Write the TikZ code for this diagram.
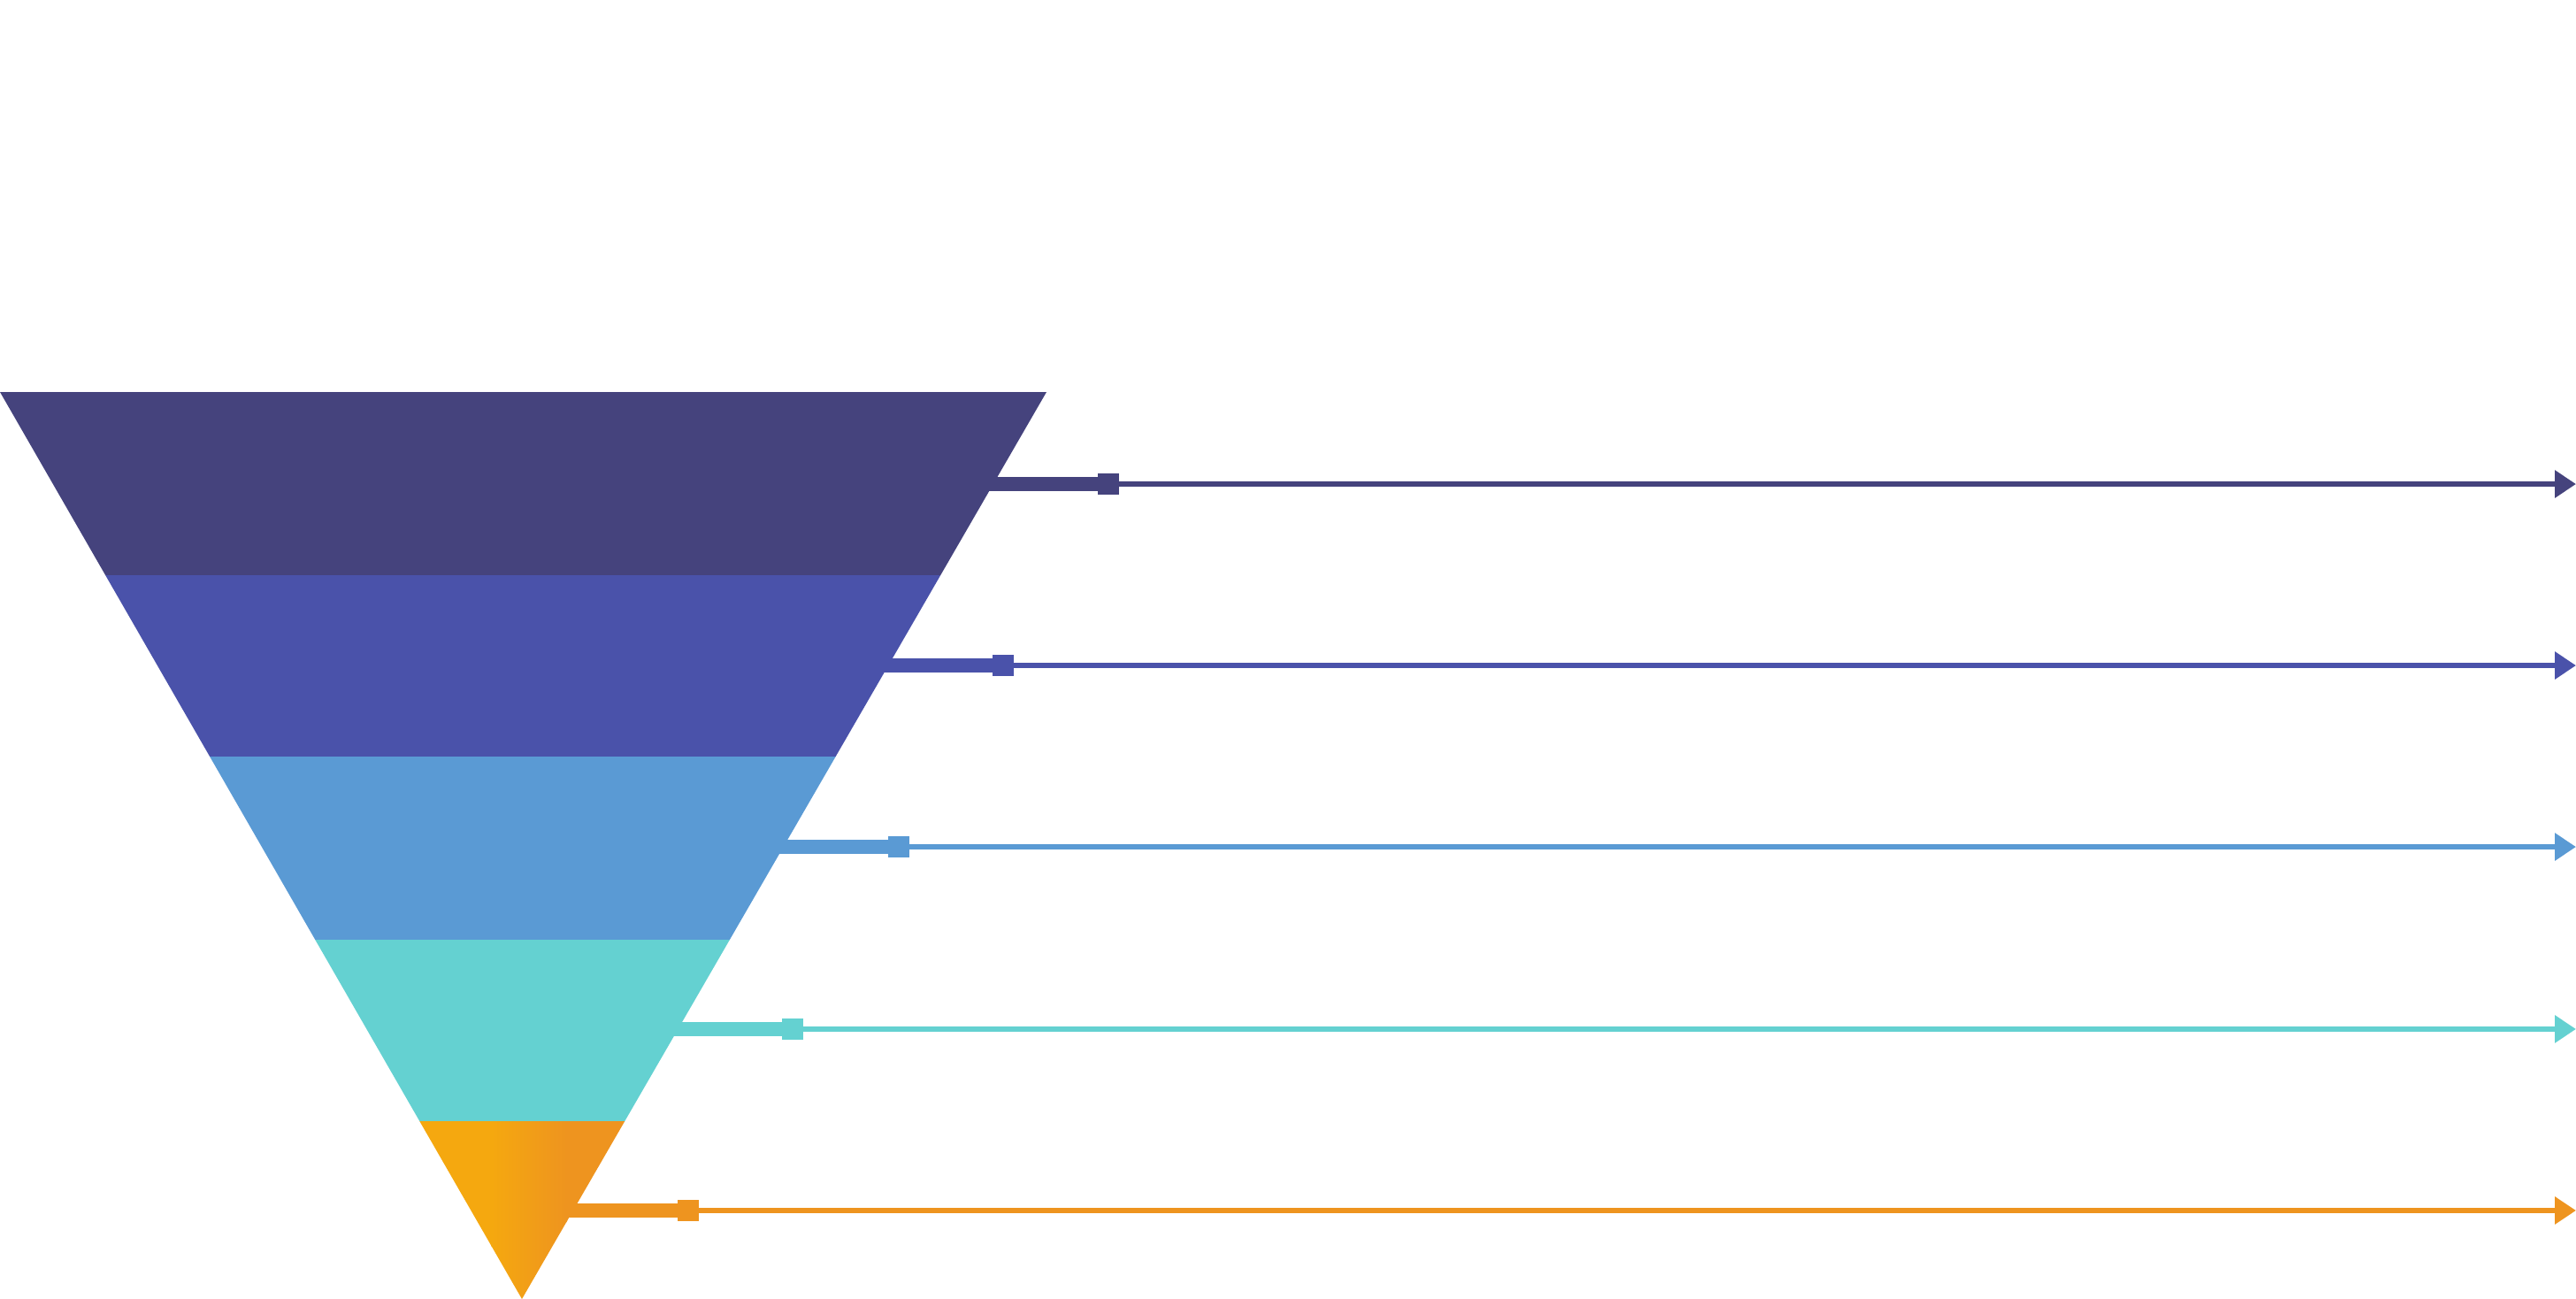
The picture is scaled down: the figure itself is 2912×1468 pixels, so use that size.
\documentclass[tikz,border=0pt]{standalone}
\usetikzlibrary{calc,arrows.meta}
\definecolor{cA}{HTML}{45437D}
\definecolor{cB}{HTML}{4A52AA}
\definecolor{cC}{HTML}{5A9AD4}
\definecolor{cD}{HTML}{64D1D1}
\definecolor{cEa}{HTML}{F5A80F}
\definecolor{cEb}{HTML}{EE941F}
\begin{document}
\begin{tikzpicture}[x=0.1mm,y=-0.1mm,
  sq/.style={rectangle,minimum width=2.4mm,minimum height=2.4mm,inner sep=0pt,outer sep=0pt},
  bar/.style={line width=1.6mm},
  lead/.style={line width=0.6mm,-{Triangle[length=2.4mm,width=3mm]}}]
\useasboundingbox (0,0) rectangle (2912,1468);
\fill[white] (0,0) rectangle (2912,1468);
\coordinate (A) at (0,443);
\coordinate (B) at (1183,443);
\coordinate (C) at (590,1468);
% layer boundary points
\coordinate (L1) at ($(A)!0.2020!(C)$); \coordinate (R1) at ($(B)!0.2020!(C)$);
\coordinate (L2) at ($(A)!0.4020!(C)$); \coordinate (R2) at ($(B)!0.4020!(C)$);
\coordinate (L3) at ($(A)!0.6039!(C)$); \coordinate (R3) at ($(B)!0.6039!(C)$);
\coordinate (L4) at ($(A)!0.8039!(C)$); \coordinate (R4) at ($(B)!0.8039!(C)$);
% layers
\fill[cA] (A) -- (B) -- (R1) -- (L1) -- cycle;
\fill[cB] (L1) -- (R1) -- (R2) -- (L2) -- cycle;
\fill[cC] (L2) -- (R2) -- (R3) -- (L3) -- cycle;
\fill[cD] (L3) -- (R3) -- (R4) -- (L4) -- cycle;
\begin{scope}
  \clip (L4) -- (R4) -- (C) -- cycle;
  \fill[cEa] (460,1260) rectangle (556,1470);
  \shade[left color=cEa,right color=cEb] (555,1260) rectangle (641,1470);
  \fill[cEb] (640,1260) rectangle (720,1470);
\end{scope}
% connectors (middle of each layer on the right edge)
\foreach \i/\t/\c in {1/0.1015/cA,2/0.3015/cB,3/0.5015/cC,4/0.7024/cD,5/0.9024/cEb}{
  \coordinate (E\i) at ($(B)!\t!(C)$);
  \node[sq,fill=\c] (S\i) at ($(E\i)+(130,0)$) {};
  \coordinate (T\i) at (2912,0 |- E\i);
  \draw[bar,\c] ($(E\i)+(-10,0)$) -- (S\i.west);
  \draw[lead,\c] (S\i.east) -- (T\i);
}
\end{tikzpicture}
\end{document}
